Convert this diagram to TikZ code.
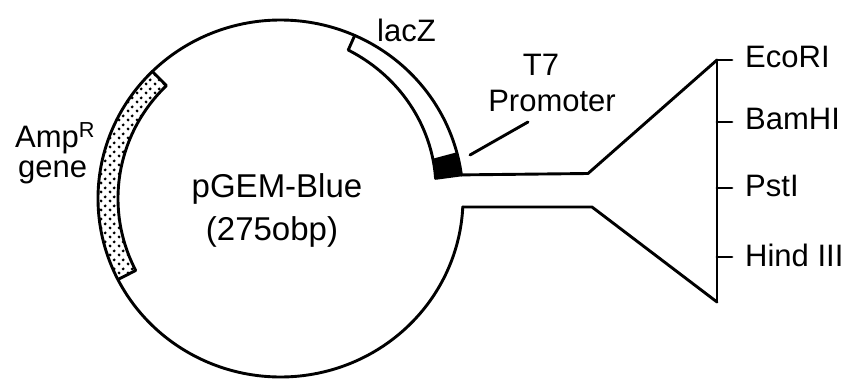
\documentclass[tikz,border=0pt]{standalone}
\usepackage{fontspec}
\setmainfont{Liberation Sans}
\usetikzlibrary{patterns.meta}
\tikzdeclarepattern{
  name=ampdots,
  bottom left={(0pt,0pt)},
  top right={(9pt,9pt)},
  tile size={(9pt,9pt)},
  code={
    \fill (2.25pt,2.25pt) circle (1.7pt);
    \fill (6.75pt,6.75pt) circle (1.7pt);
  }
}
\def\cx{280.5}
\def\cy{198.5}
\def\rx{182.5}
\def\ry{178.5}
\tikzset{
  dna/.style={line width=2.9pt, line join=round, line cap=round},
  lbl/.style={inner sep=0pt, font=\fontsize{31}{37}\selectfont},
  site/.style={lbl, anchor=base west},
}
\begin{document}
\begin{tikzpicture}[x=1pt, y=-1pt]
\useasboundingbox (0,0) rectangle (857,383);
% Amp box fill
\fill[pattern=ampdots]
  plot[domain=134.6:207, samples=60, variable=\t] ({\cx+\rx*cos(\t)},{\cy-\ry*sin(\t)})
  -- plot[domain=207:134.6, samples=60, variable=\t] ({\cx+(\rx-20)*cos(\t)},{\cy-(\ry-20)*sin(\t)})
  -- cycle;
% promoter block
\fill
  plot[domain=15:7.6, samples=20, variable=\t] ({\cx+\rx*cos(\t)},{\cy-\ry*sin(\t)})
  -- plot[domain=7.6:15, samples=20, variable=\t] ({\cx+(\rx-16-(66-\t)*10/58)*cos(\t)},{\cy-(\ry-16-(66-\t)*10/58)*sin(\t)})
  -- cycle;
% plasmid outline
\draw[dna] plot[domain=7.6:357.3, samples=360, variable=\t] ({\cx+\rx*cos(\t)},{\cy-\ry*sin(\t)});
% Amp box inner edge
\draw[dna] ({\cx+\rx*cos(134.6)},{\cy-\ry*sin(134.6)})
  -- plot[domain=134.6:207, samples=60, variable=\t] ({\cx+(\rx-20)*cos(\t)},{\cy-(\ry-20)*sin(\t)})
  -- ({\cx+\rx*cos(207)},{\cy-\ry*sin(207)});
% lacZ inner edge
\draw[dna] ({\cx+\rx*cos(66)},{\cy-\ry*sin(66)})
  -- plot[domain=66:7.6, samples=80, variable=\t] ({\cx+(\rx-16-(66-\t)*10/58)*cos(\t)},{\cy-(\ry-16-(66-\t)*10/58)*sin(\t)})
  -- ({\cx+\rx*cos(7.6)},{\cy-\ry*sin(7.6)});
% funnel
\coordinate (tstart) at ({\cx+\rx*cos(7.6)},{\cy-\ry*sin(7.6)});
\coordinate (tmid) at (588,173.5);
\coordinate (bstart) at ({\cx+\rx*cos(357.3)},207);
\coordinate (bmid) at (592,207);
\coordinate (vtop) at (717,60);
\coordinate (vbot) at (717,302);
\draw[dna] (tstart) -- (tmid) -- (vtop);
\draw[dna] (bstart) -- (bmid) -- (vbot);
\draw[dna] (vtop) -- (vbot);
% ticks and sites
\coordinate (t1) at (717,60);
\coordinate (t2) at (717,122);
\coordinate (t3) at (717,188);
\coordinate (t4) at (717,257);
\draw[dna] (t1) -- ++(15,0);
\draw[dna] (t2) -- ++(15,0);
\draw[dna] (t3) -- ++(15,0);
\draw[dna] (t4) -- ++(15,0);
\node[site] (eco) at (745,67) {EcoRI};
\node[site] (bam) at (745,129) {BamHI};
\node[site] (pst) at (745,196) {PstI};
\node[site] (hind) at (745,266) {Hind III};
% labels
\node[lbl, anchor=base west] (lacz) at (377,41) {lacZ};
\node[lbl, anchor=base] (t7) at (541,75) {T7};
\node[lbl, anchor=base] (prom) at (552,111) {Promoter};
\coordinate (pa) at (528,122);
\coordinate (pb) at (470,155);
\draw[dna] (pa) -- (pb);
\node[lbl, anchor=base west] (amp) at (15,147) {Amp\textsuperscript{R}};
\node[lbl, anchor=base west] (gene) at (18,177) {gene};
\node[lbl, anchor=base, font=\fontsize{33}{39}\selectfont] (pgem) at (277,197) {pGEM-Blue};
\node[lbl, anchor=base, font=\fontsize{33}{39}\selectfont] (size) at (272,240) {(275obp)};
\end{tikzpicture}
\end{document}
